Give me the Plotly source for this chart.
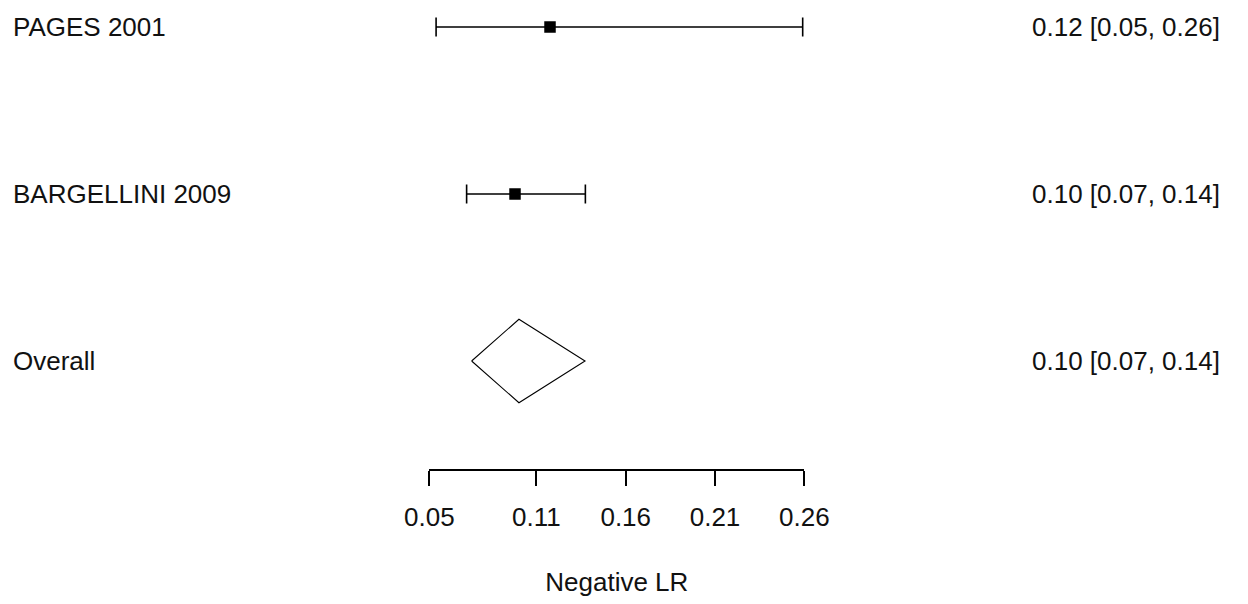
import plotly.graph_objects as go

# ---- data ----
study_labels = ["PAGES 2001", "BARGELLINI 2009"]
study_est = [0.1176, 0.0980]
study_lo = [0.0538, 0.0709]
study_hi = [0.2591, 0.1374]
study_text = ["0.12 [0.05, 0.26]", "0.10 [0.07, 0.14]"]

overall_label = "Overall"
overall_est = 0.1002
overall_lo = 0.0737
overall_hi = 0.1372
overall_text = "0.10 [0.07, 0.14]"

tick_vals = [0.05, 0.11, 0.16, 0.21, 0.26]
tick_text = ["0.05", "0.11", "0.16", "0.21", "0.26"]
axis_title = "Negative LR"

# ---- layout constants ----
W, H = 1248, 604
FONT = "Liberation Sans, Arial, sans-serif"
FS = 26
PX_PER_UNIT = 1785.7
X_AT_FIRST_TICK = 429.3
ROW_PX = 167.0
TOP_ROW_PX = 27.0
AXIS_PX = 470.0
DIAMOND_HALF = 0.25

x0 = tick_vals[0] - X_AT_FIRST_TICK / PX_PER_UNIT
x1 = x0 + W / PX_PER_UNIT
n_rows = len(study_labels) + 1
y_rows = list(range(n_rows, 0, -1))  # 3, 2, 1
y_top = n_rows + TOP_ROW_PX / ROW_PX
y_bot = n_rows - (H - TOP_ROW_PX) / ROW_PX

study_y = y_rows[:len(study_labels)]
overall_y = y_rows[-1]

fig = go.Figure()

# invisible trace to carry the scale axis (drawn first, underneath)
fig.add_trace(go.Scatter(
    x=[tick_vals[0], tick_vals[-1]], y=[overall_y, overall_y],
    xaxis="x2", mode="markers", marker=dict(opacity=0),
    hoverinfo="skip", showlegend=False))

# study CIs with squares
fig.add_trace(go.Scatter(
    x=study_est, y=study_y, mode="markers",
    marker=dict(symbol="square", size=11.5, color="black"),
    error_x=dict(type="data", symmetric=False,
                 array=[h - e for h, e in zip(study_hi, study_est)],
                 arrayminus=[e - l for e, l in zip(study_est, study_lo)],
                 color="black", thickness=1.6, width=9.5),
    hoverinfo="skip", showlegend=False))

# overall diamond
fig.add_trace(go.Scatter(
    x=[overall_lo, overall_est, overall_hi, overall_est, overall_lo],
    y=[overall_y, overall_y + DIAMOND_HALF, overall_y,
       overall_y - DIAMOND_HALF, overall_y],
    mode="lines", line=dict(color="black", width=1.1),
    hoverinfo="skip", showlegend=False))

# left labels and right text
all_labels = study_labels + [overall_label]
all_text = study_text + [overall_text]
for lab, txt, yv in zip(all_labels, all_text, y_rows):
    fig.add_annotation(x=11 / W, xref="paper", y=yv, yref="y", text=lab,
                       showarrow=False, xanchor="left", yanchor="middle",
                       font=dict(family=FONT, size=FS, color="#111"))
    fig.add_annotation(x=1222 / W, xref="paper", y=yv, yref="y", text=txt,
                       showarrow=False, xanchor="right", yanchor="middle",
                       font=dict(family=FONT, size=FS, color="#111"))

dom0 = X_AT_FIRST_TICK / W
dom1 = (X_AT_FIRST_TICK + (tick_vals[-1] - tick_vals[0]) * PX_PER_UNIT) / W

fig.update_layout(
    width=W, height=H,
    margin=dict(l=0, r=0, t=0, b=0, pad=0, autoexpand=False),
    paper_bgcolor="white", plot_bgcolor="rgba(0,0,0,0)",
    xaxis=dict(range=[x0, x1], visible=False, fixedrange=True),
    yaxis=dict(range=[y_bot, y_top], visible=False, fixedrange=True),
    xaxis2=dict(domain=[dom0, dom1], range=[tick_vals[0], tick_vals[-1]],
                anchor="free", position=1 - AXIS_PX / H,
                showline=True, linecolor="black", linewidth=1.5,
                ticks="outside", ticklen=15, tickwidth=1.5, tickcolor="black",
                tickvals=tick_vals, ticktext=tick_text,
                tickfont=dict(family=FONT, size=FS, color="#111"),
                ticklabelstandoff=9, automargin=False,
                showgrid=False, zeroline=False, fixedrange=True,
                title=dict(text=axis_title, standoff=41,
                           font=dict(family=FONT, size=FS, color="#111"))),
    showlegend=False,
)

fig.write_html("out.html")
